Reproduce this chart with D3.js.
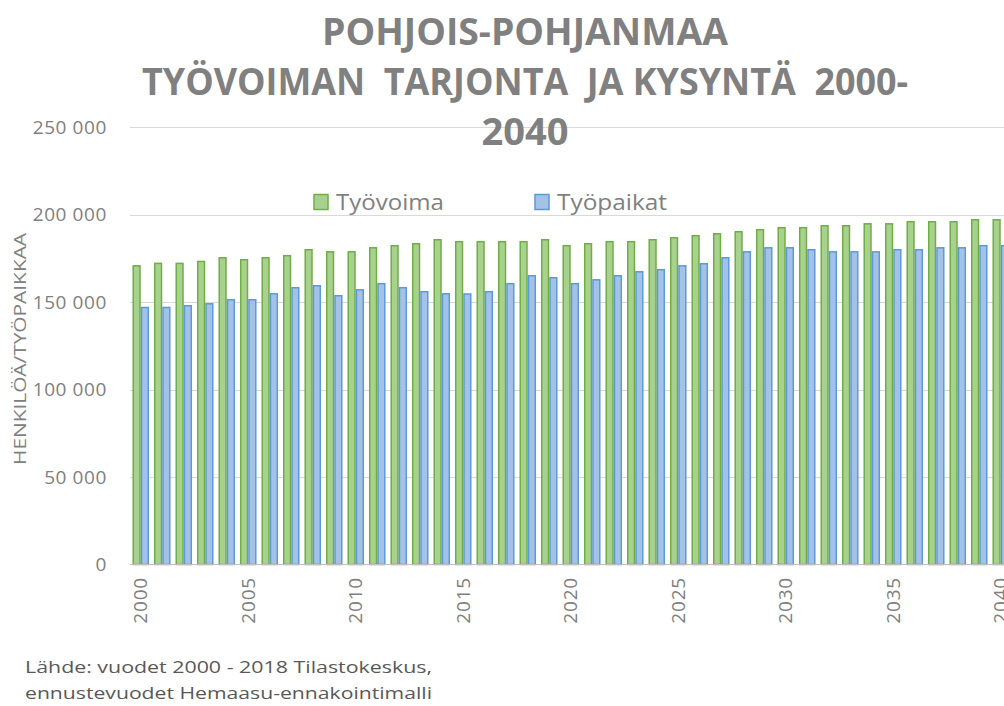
<!DOCTYPE html>
<html>
<head>
<meta charset="utf-8">
<script src="https://cdn.jsdelivr.net/npm/d3@7/dist/d3.min.js"></script>
<style>
  html, body { margin: 0; padding: 0; background: #ffffff; overflow: hidden; }
  svg { display: block; }
  .pre { white-space: pre; }
</style>
</head>
<body>
<script>
// ---- Data ----
const years = d3.range(2000, 2041);
const tyovoima = [171.1,172.5,172.5,173.6,175.7,174.6,175.7,176.9,180.3,179.1,
                  179.1,181.4,182.6,183.7,186.0,184.9,184.9,184.9,184.9,186.0,
                  182.6,183.7,184.9,184.9,186.0,187.1,188.3,189.4,190.6,191.7,
                  192.9,192.9,194.0,194.0,195.1,195.1,196.3,196.3,196.3,197.4,197.4].map(v => v * 1000);
const tyopaikat = [147.3,147.3,148.3,149.4,151.7,151.7,155.1,158.6,159.7,154.0,
                   157.4,160.9,158.6,156.3,155.1,155.0,156.3,160.9,165.4,164.3,
                   160.9,163.1,165.4,167.7,168.9,171.1,172.3,175.7,179.1,181.4,
                   181.4,180.3,179.1,179.1,179.1,180.3,180.3,181.4,181.4,182.6,182.6].map(v => v * 1000);
const seriesNames = ["Työvoima", "Työpaikat"];
const yTicks = [0, 50000, 100000, 150000, 200000, 250000];
const xTickYears = [2000, 2005, 2010, 2015, 2020, 2025, 2030, 2035, 2040];
const titleLines = ["POHJOIS-POHJANMAA", "TYÖVOIMAN  TARJONTA  JA KYSYNTÄ  2000-", "2040"];
const yTitle = "HENKILÖÄ/TYÖPAIKKAA";
const sourceLines = ["Lähde: vuodet 2000 - 2018 Tilastokeskus,", "ennustevuodet Hemaasu-ennakointimalli"];

// ---- Styles ----
const W = 1004, H = 706;
const fills = ["#a9d18e", "#a4c2e8"];
const strokes = ["#70ad47", "#5b9bd5"];
const textGray = "#808080";
const font = "'Open Sans', 'DejaVu Sans', sans-serif";

const svg = d3.select("body").append("svg")
  .attr("width", W).attr("height", H)
  .style("font-family", font);

svg.append("rect").attr("width", W).attr("height", H).attr("fill", "#fff");

const plotLeft = 130, plotBottom = 564.5, plotTop = 127;
const x = d3.scaleBand().domain(years).range([plotLeft, plotLeft + 21.5 * years.length])
  .paddingInner(0.23).paddingOuter(0.115);
const xs = d3.scaleBand().domain([0, 1]).range([0, x.bandwidth()]);
const y = d3.scaleLinear().domain([0, 250000]).range([plotBottom, plotTop]);

// gridlines
svg.append("g").selectAll("line").data(yTicks.filter(d => d > 0)).join("line")
  .attr("x1", plotLeft).attr("x2", W)
  .attr("y1", d => Math.round(y(d)) + 0.5).attr("y2", d => Math.round(y(d)) + 0.5)
  .attr("stroke", "#d9d9d9").attr("stroke-width", 1.2);

// bars
const data = years.map((yr, i) => ({ yr, vals: [tyovoima[i], tyopaikat[i]] }));
const groups = svg.append("g").selectAll("g").data(data).join("g")
  .attr("transform", d => `translate(${x(d.yr)},0)`);
groups.selectAll("rect").data(d => d.vals.map((v, k) => ({ v, k }))).join("rect")
  .attr("x", d => xs(d.k) + 0.75)
  .attr("width", xs.bandwidth() - 1.5)
  .attr("y", d => y(d.v) + 0.75)
  .attr("height", d => plotBottom - y(d.v) - 0.75)
  .attr("fill", d => fills[d.k])
  .attr("stroke", d => strokes[d.k])
  .attr("stroke-width", 1.5);

// zero axis
svg.append("line").attr("x1", plotLeft).attr("x2", W)
  .attr("y1", plotBottom).attr("y2", plotBottom)
  .attr("stroke", "#bfbfbf").attr("stroke-width", 1.2);

// y tick labels
const fmt = d => d === 0 ? "0" : d3.format(",")(d).replace(/,/g, " ");
svg.append("g").selectAll("text").data(yTicks).join("text")
  .attr("x", 107).attr("y", d => y(d)).attr("dy", "0.35em")
  .attr("text-anchor", "end")
  .attr("font-size", 19).attr("letter-spacing", 0.6).attr("fill", textGray)
  .attr("class", "pre")
  .text(fmt);

// x tick labels
svg.append("g").selectAll("text").data(xTickYears).join("text")
  .attr("transform", d => `translate(${x(d) + x.bandwidth() / 2},${577}) rotate(-90)`)
  .attr("dy", "0.35em")
  .attr("text-anchor", "end")
  .attr("font-size", 19).attr("letter-spacing", 0.8).attr("fill", textGray)
  .text(d => d);

// y axis title
svg.append("text")
  .attr("transform", `translate(20,349) rotate(-90)`)
  .attr("dy", "0.35em")
  .attr("text-anchor", "middle")
  .attr("font-size", 16).attr("fill", textGray)
  .attr("textLength", 232).attr("lengthAdjust", "spacingAndGlyphs")
  .text(yTitle);

// title
const titleY = [45, 95, 145];
const titleLen = [406, 766, 87];
svg.append("g").selectAll("text").data(titleLines).join("text")
  .attr("class", "pre")
  .attr("x", 525).attr("y", (d, i) => titleY[i])
  .attr("text-anchor", "middle")
  .attr("font-size", 37).attr("font-weight", "bold").attr("fill", "#808080")
  .attr("textLength", (d, i) => titleLen[i]).attr("lengthAdjust", "spacingAndGlyphs")
  .text(d => d);

// legend
const legX = [314, 535];
const legTextLen = [108, 110];
const leg = svg.append("g").selectAll("g").data(seriesNames).join("g");
leg.append("rect")
  .attr("x", (d, i) => legX[i]).attr("y", 194.5)
  .attr("width", 14).attr("height", 15)
  .attr("fill", (d, i) => fills[i]).attr("stroke", (d, i) => strokes[i]).attr("stroke-width", 1.5);
leg.append("text")
  .attr("x", (d, i) => legX[i] + 22).attr("y", 210)
  .attr("font-size", 21).attr("fill", textGray)
  .attr("textLength", (d, i) => legTextLen[i]).attr("lengthAdjust", "spacingAndGlyphs")
  .text(d => d);

// source
svg.append("g").selectAll("text").data(sourceLines).join("text")
  .attr("x", 25).attr("y", (d, i) => 673 + i * 26)
  .attr("font-size", 17).attr("fill", "#595959")
  .attr("textLength", 407).attr("lengthAdjust", "spacingAndGlyphs")
  .text(d => d);
</script>
</body>
</html>
